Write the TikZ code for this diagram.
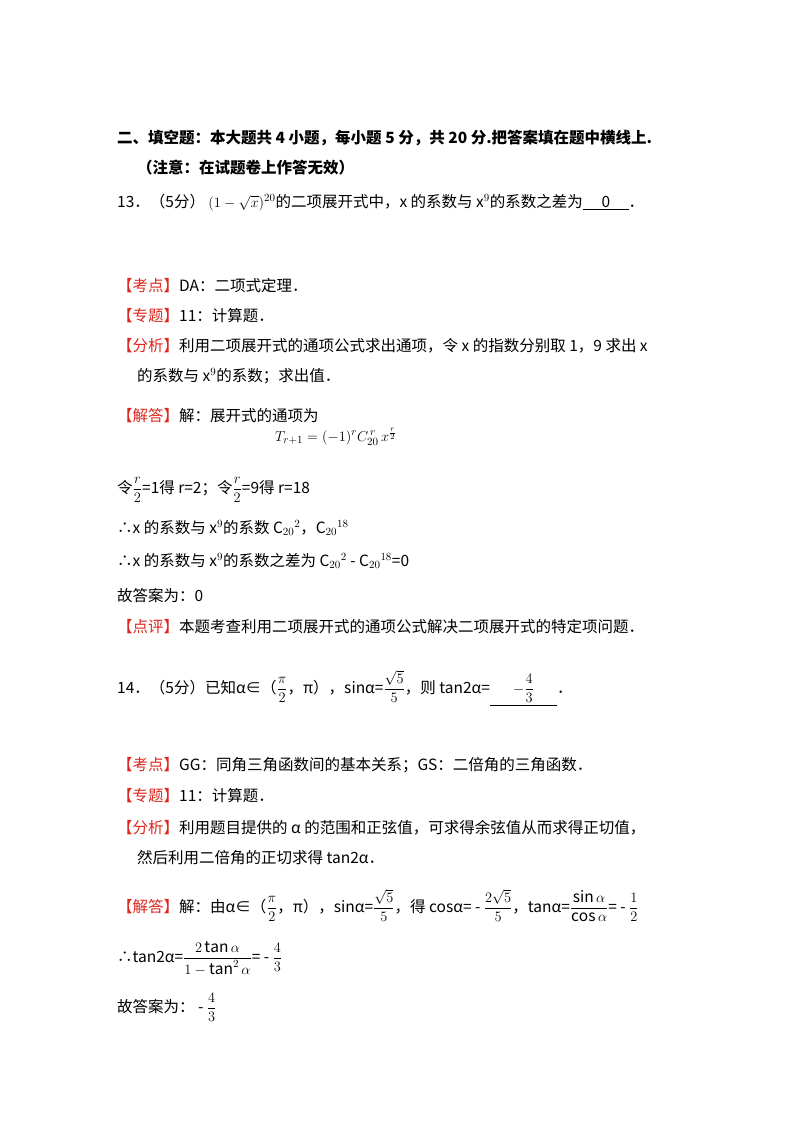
\documentclass[tikz,border=0pt]{standalone}
\usepackage{fontspec}
\usepackage{amsmath}
\setmainfont{Noto Sans CJK SC}
\definecolor{kred}{RGB}{220,40,30}
\newcommand{\kd}[1]{\textcolor{kred}{【#1】}}
\begin{document}
\begin{tikzpicture}[x=1pt,y=1pt,
  t/.style={anchor=base west,inner sep=0pt,font=\fontsize{15.5}{18}\selectfont}]
\useasboundingbox[fill=white] (0,0) rectangle (800,-1132);
\node[t,font=\fontsize{15.5}{18}\selectfont\bfseries] (h1) at (117,-143) {二、填空题：本大题共 4 小题，每小题 5 分，共 20 分.把答案填在题中横线上.};
\node[t,font=\fontsize{15.5}{18}\selectfont\bfseries] (h2) at (137,-173) {（注意：在试题卷上作答无效）};
\node[t] (q13) at (117,-207) {13．（5分） $(1-\sqrt{x})^{20}$的二项展开式中，x 的系数与 x$^9$的系数之差为\underline{\hspace{1.2em}0\hspace{1.2em}}．};
\node[t] (a1) at (117,-291) {\kd{考点}DA：二项式定理．};
\node[t] (a2) at (117,-321) {\kd{专题}11：计算题．};
\node[t] (a3) at (117,-351) {\kd{分析}利用二项展开式的通项公式求出通项，令 x 的指数分别取 1，9 求出 x};
\node[t] (a4) at (137,-381) {的系数与 x$^9$的系数；求出值．};
\node[t] (a5) at (117,-421) {\kd{解答}解：展开式的通项为};
\node[t] (a5f) at (275,-441) {$T_{r+1}=(-1)^r C_{20}^{\,r}\,x^{\frac{r}{2}}$};
\node[t] (a6) at (117,-493) {令$\dfrac{r}{2}$=1得 r=2；令$\dfrac{r}{2}$=9得 r=18};
\node[t] (a7) at (117,-533) {∴x 的系数与 x$^9$的系数 C$_{20}{}^{2}$，C$_{20}{}^{18}$};
\node[t] (a8) at (117,-566) {∴x 的系数与 x$^9$的系数之差为 C$_{20}{}^{2}$ - C$_{20}{}^{18}$=0};
\node[t] (a9) at (117,-601) {故答案为：0};
\node[t] (a10) at (117,-632) {\kd{点评}本题考查利用二项展开式的通项公式解决二项展开式的特定项问题．};
\node[t] (q14) at (117,-693) {14．（5分）已知α∈（$\dfrac{\pi}{2}$，π），sinα=$\dfrac{\sqrt5}{5}$，则 tan2α=\underline{\hspace{1.5em}$-\dfrac{4}{3}$\hspace{1.5em}}．};
\node[t] (b1) at (117,-770) {\kd{考点}GG：同角三角函数间的基本关系；GS：二倍角的三角函数．};
\node[t] (b2) at (117,-801) {\kd{专题}11：计算题．};
\node[t] (b3) at (117,-833) {\kd{分析}利用题目提供的 α 的范围和正弦值，可求得余弦值从而求得正切值，};
\node[t] (b4) at (137,-863) {然后利用二倍角的正切求得 tan2α．};
\node[t] (b5) at (117,-912) {\kd{解答}解：由α∈（$\dfrac{\pi}{2}$，π），sinα=$\dfrac{\sqrt5}{5}$，得 cosα= - $\dfrac{2\sqrt5}{5}$，tanα=$\dfrac{\sin\alpha}{\cos\alpha}$= - $\dfrac12$};
\node[t] (b6) at (117,-962) {∴tan2α=$\dfrac{2\tan\alpha}{1-\tan^2\alpha}$= - $\dfrac43$};
\node[t] (b7) at (117,-1012) {故答案为： - $\dfrac43$};
\end{tikzpicture}
\end{document}
